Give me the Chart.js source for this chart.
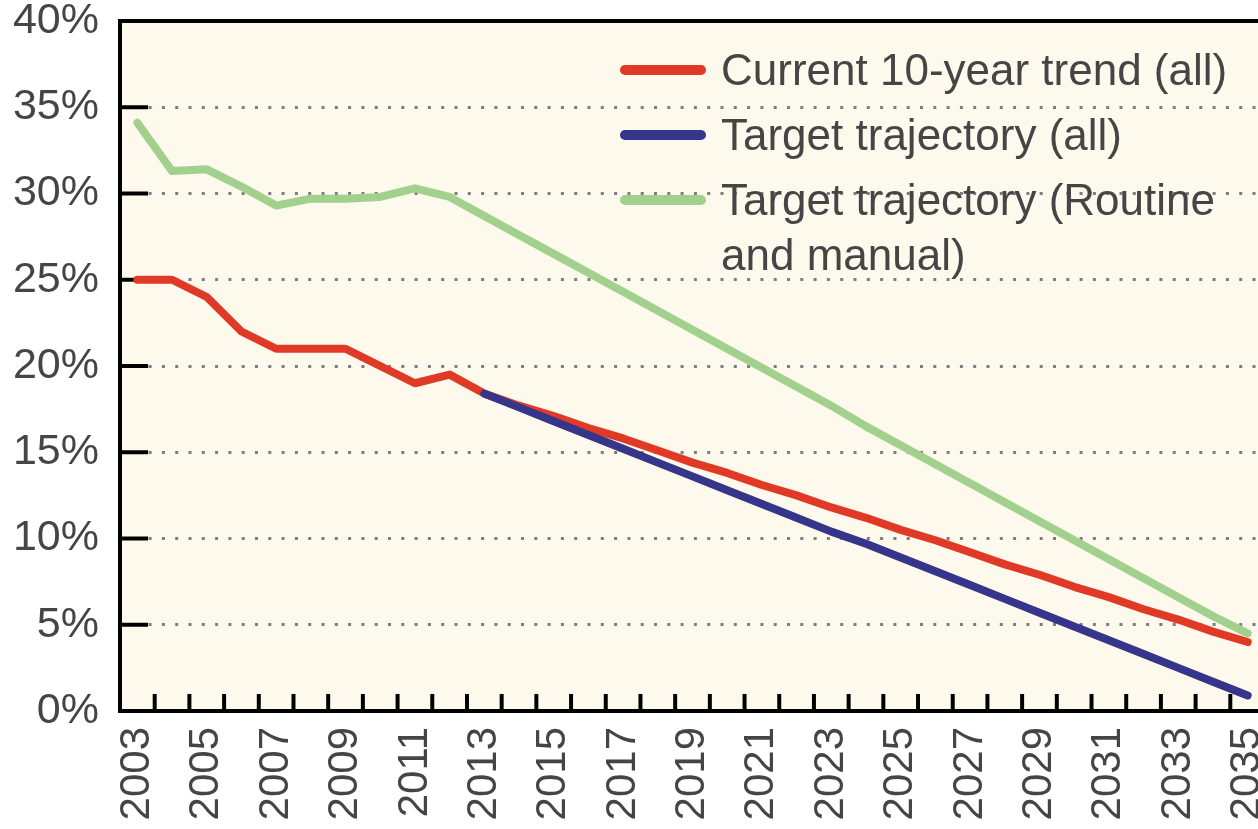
<!DOCTYPE html>
<html>
<head>
<meta charset="utf-8">
<script src="https://cdn.jsdelivr.net/npm/chart.js@4"></script>
<style>
  html, body { margin: 0; padding: 0; background: #ffffff; overflow: hidden; }
  #wrap { width: 1265px; height: 829px; }
</style>
</head>
<body>
<div id="wrap"><canvas id="chart" width="1265" height="829"></canvas></div>
<script>
// years on the x axis (every year has a slot, odd years are labelled)
const years = ['2003', '2004', '2005', '2006', '2007', '2008', '2009', '2010', '2011', '2012',
               '2013', '2014', '2015', '2016', '2017', '2018', '2019', '2020', '2021', '2022',
               '2023', '2024', '2025', '2026', '2027', '2028', '2029', '2030', '2031', '2032',
               '2033', '2034', '2035'];

// percentages
const currentTrend = [25.0, 25.0, 24.0, 22.0, 21.0, 21.0, 21.0, 20.0, 19.0, 19.5,
                      18.4, 17.7, 17.1, 16.4, 15.8, 15.1, 14.4, 13.8, 13.1, 12.5,
                      11.8, 11.2, 10.5, 9.9, 9.2, 8.5, 7.9, 7.2, 6.6, 5.9,
                      5.3, 4.6, 4.0];
const targetAll = [null, null, null, null, null, null, null, null, null, null,
                   18.4, 17.6, 16.8, 16.0, 15.2, 14.4, 13.6, 12.8, 12.0, 11.2,
                   10.4, 9.7, 8.9, 8.1, 7.3, 6.5, 5.7, 4.9, 4.1, 3.3,
                   2.5, 1.7, 0.9];
const targetRoutine = [34.1, 31.3, 31.4, 30.4, 29.3, 29.7, 29.7, 29.8, 30.3, 29.8,
                       28.7, 27.6, 26.5, 25.4, 24.3, 23.2, 22.1, 21.0, 19.9, 18.8,
                       17.7, 16.5, 15.4, 14.3, 13.2, 12.1, 11.0, 9.9, 8.8, 7.7,
                       6.6, 5.5, 4.5];

const seriesNames = ['Current 10-year trend (all)', 'Target trajectory (all)', 'Target trajectory (Routine\nand manual)'];

const FONT = "'Liberation Sans', Arial, sans-serif";
const TEXT = '#454545';
const RED = '#e03a26';
const BLUE = '#35358a';
const GREEN = '#a2d08d';

// cream plot area, top frame line and the inward tick marks
const framePlugin = {
    id: 'framePlugin',
    beforeDraw: (chart) => {
        const { ctx, chartArea: a } = chart;
        ctx.save();
        ctx.fillStyle = '#fdfaed';
        ctx.fillRect(a.left, a.top, a.right - a.left, a.bottom - a.top);
        ctx.restore();
    },
    beforeDatasetsDraw: (chart) => {
        const { ctx, chartArea: a, scales } = chart;
        ctx.save();
        ctx.strokeStyle = '#000000';
        ctx.lineWidth = 4;
        // top frame
        ctx.beginPath();
        ctx.moveTo(a.left - 2, a.top);
        ctx.lineTo(a.right, a.top);
        ctx.stroke();
        // y ticks, pointing inwards
        scales.y.ticks.forEach(t => {
            const y = scales.y.getPixelForValue(t.value);
            ctx.beginPath();
            ctx.moveTo(a.left, y);
            ctx.lineTo(a.left + 28, y);
            ctx.stroke();
        });
        // x ticks between the years, pointing up
        for (let i = 0; i < years.length - 1; i++) {
            const x = (scales.x.getPixelForValue(i) + scales.x.getPixelForValue(i + 1)) / 2;
            ctx.beginPath();
            ctx.moveTo(x, a.bottom);
            ctx.lineTo(x, a.bottom - 17);
            ctx.stroke();
        }
        ctx.restore();
    },
    afterDraw: (chart) => {
        const { ctx } = chart;
        ctx.save();
        ctx.font = '44px ' + FONT;
        ctx.fillStyle = TEXT;
        ctx.textAlign = 'left';
        ctx.textBaseline = 'alphabetic';
        chart.data.datasets.forEach((ds, i) => {
            const rowY = 70 + i * 65;
            ctx.strokeStyle = ds.borderColor;
            ctx.lineWidth = 10;
            ctx.lineCap = 'round';
            ctx.beginPath();
            ctx.moveTo(625, rowY);
            ctx.lineTo(701, rowY);
            ctx.stroke();
            seriesNames[i].split('\n').forEach((line, j) => {
                ctx.fillText(line, 721, rowY + 15 + j * 55);
            });
        });
        ctx.restore();
    }
};

const ctx = document.getElementById('chart').getContext('2d');

new Chart(ctx, {
    type: 'line',
    data: {
        labels: years,
        datasets: [
            { label: seriesNames[0], data: currentTrend, borderColor: RED, order: 1 },
            { label: seriesNames[1], data: targetAll, borderColor: BLUE, order: 0 },
            { label: seriesNames[2], data: targetRoutine, borderColor: GREEN, order: 2 }
        ]
    },
    options: {
        responsive: false,
        animation: false,
        elements: {
            line: { borderWidth: 8, tension: 0, borderCapStyle: 'round', borderJoinStyle: 'round', fill: false },
            point: { radius: 0, hoverRadius: 0 }
        },
        layout: { padding: { top: 21, left: 0, right: 0, bottom: 0 } },
        plugins: {
            legend: { display: false },
            tooltip: { enabled: false }
        },
        scales: {
            x: {
                offset: true,
                grid: { display: false, drawTicks: false },
                border: { display: true, color: '#000000', width: 4 },
                ticks: {
                    autoSkip: false,
                    minRotation: 90,
                    maxRotation: 90,
                    padding: 16,
                    color: TEXT,
                    font: { family: FONT, size: 42 },
                    callback: function (value, index) {
                        return index % 2 === 0 ? years[index] : '';
                    }
                },
                afterFit: (s) => { s.height = 118; s.paddingLeft = 0; s.paddingRight = 0; }
            },
            y: {
                min: 0,
                max: 40,
                grid: {
                    drawTicks: false,
                    lineWidth: 3,
                    color: (c) => (c.tick && (c.tick.value === 0 || c.tick.value === 40)) ? 'rgba(0,0,0,0)' : '#7c7c84'
                },
                border: { display: true, color: '#000000', width: 4, dash: [3, 10.3], dashOffset: 0 },
                ticks: {
                    stepSize: 5,
                    padding: 21,
                    color: TEXT,
                    font: { family: FONT, size: 43 },
                    callback: (v) => v + '%'
                },
                afterFit: (s) => { s.width = 120; s.paddingTop = 0; s.paddingBottom = 0; }
            }
        }
    },
    plugins: [framePlugin]
});
</script>
</body>
</html>
